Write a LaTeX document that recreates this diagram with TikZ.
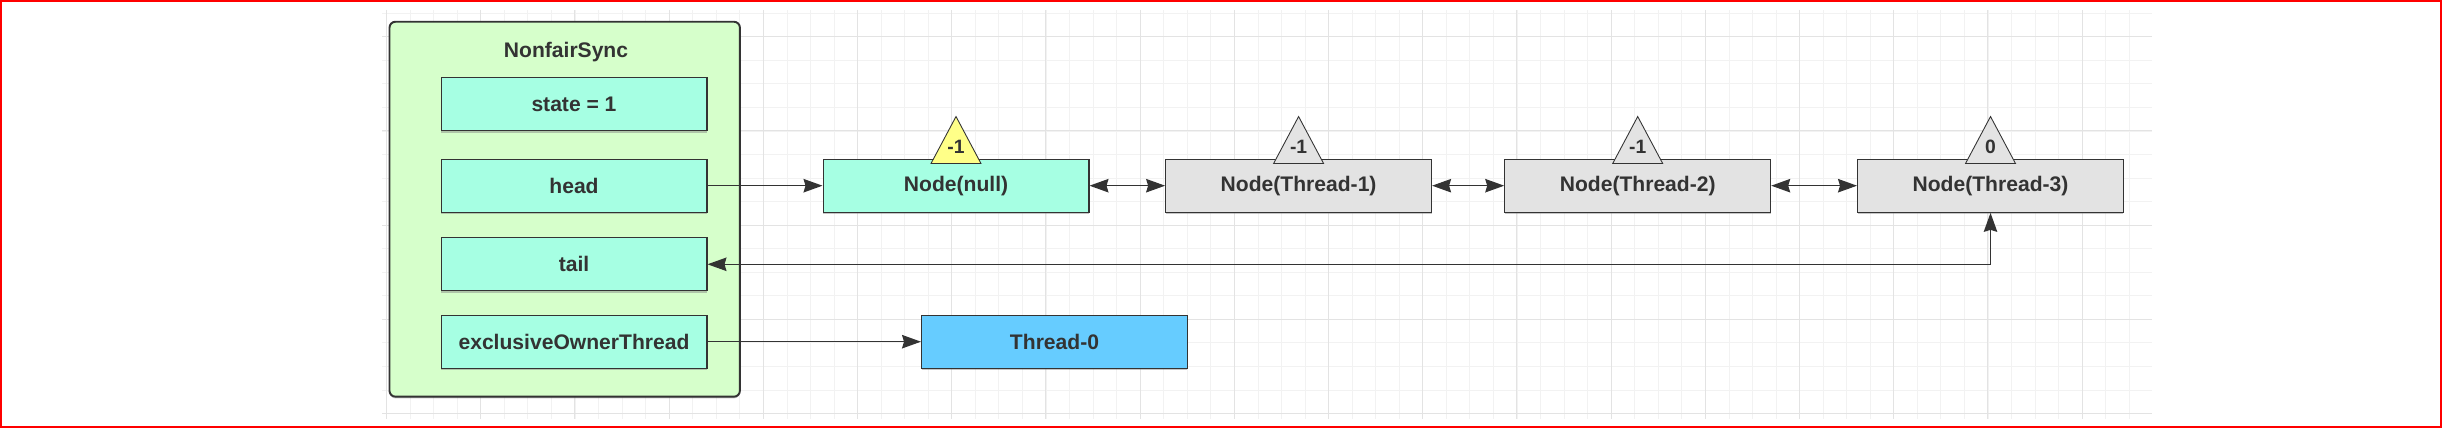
\documentclass[tikz,border=0pt]{standalone}
\usepackage{fontspec}
\setmainfont{Liberation Sans}
\usetikzlibrary{arrows.meta,shadows}
\definecolor{inkgray}{HTML}{333333}
\definecolor{syncfill}{HTML}{D6FFCB}
\definecolor{fieldfill}{HTML}{A6FFE3}
\definecolor{waitfill}{HTML}{E3E3E3}
\definecolor{ownerfill}{HTML}{66CCFF}
\definecolor{flagnull}{HTML}{FFFF88}
\begin{document}
\begin{tikzpicture}[x=0.02cm, y=-0.02cm,
    >={Stealth[length=0.38cm, width=0.27cm, inset=0.04cm]},
    gridminor/.style={draw=black!5, line width=0.4pt},
    gridmajor/.style={draw=black!11, line width=0.6pt},
    shade/.style={drop shadow={shadow xshift=0cm, shadow yshift=-0.035cm, opacity=0.45}},
    syncbox/.style={draw=inkgray, fill=syncfill, line width=1.1pt, rounded corners=0.12cm,
        minimum width=7.01cm, minimum height=7.5cm, shade},
    box/.style={draw=inkgray, line width=0.6pt, minimum width=5.32cm, minimum height=1.066cm,
        inner sep=0pt, text=inkgray, font=\fontsize{12}{14}\selectfont\bfseries, shade},
    field/.style={box, fill=fieldfill},
    title/.style={text=inkgray, font=\fontsize{12}{14}\selectfont\bfseries},
    flag/.style={draw=inkgray, line width=0.5pt},
    flagtext/.style={text=inkgray, inner sep=0pt, font=\fontsize{11}{12}\selectfont\bfseries},
    link/.style={draw=inkgray, line width=0.7pt}]
  \useasboundingbox (0,0) rectangle (2442,428);
  % grid paper
  \foreach \k in {0,...,74} \draw[gridminor] ({386.5+23.55*\k},10) -- ({386.5+23.55*\k},419);
  \foreach \k in {-1,...,16} \draw[gridminor] (382,{36.7+23.55*\k}) -- (2152,{36.7+23.55*\k});
  \foreach \k in {0,...,18} \draw[gridmajor] ({386.5+94.2*\k},10) -- ({386.5+94.2*\k},419);
  \foreach \k in {0,...,4} \draw[gridmajor] (382,{36.7+94.2*\k}) -- (2152,{36.7+94.2*\k});
  \draw[red, line width=0.04cm] (1,1) rectangle (2441,427);

  % the lock object
  \node[syncbox] (sync) at (564.7,209.2) {};
  \node[title] (synctitle) at (566,51.7) {NonfairSync};
  \node[field] (state) at (574,104.2) {state = 1};
  \node[field] (head) at (574,185.7) {head};
  \node[field] (tail) at (574,264.3) {tail};
  \node[field] (owner) at (574,341.7) {exclusiveOwnerThread};

  % wait queue
  \node[box, fill=fieldfill] (nnull) at (956,185.7) {Node(null)};
  \node[box, fill=waitfill] (nt1) at (1298.6,185.7) {Node(Thread-1)};
  \node[box, fill=waitfill] (nt2) at (1637.7,185.7) {Node(Thread-2)};
  \node[box, fill=waitfill] (nt3) at (1990.5,185.7) {Node(Thread-3)};
  \node[box, fill=ownerfill] (thread0) at (1054.5,341.7) {Thread-0};

  \draw[link, ->] (head) -- (nnull);
  \draw[link, <->] (nnull) -- (nt1);
  \draw[link, <->] (nt1) -- (nt2);
  \draw[link, <->] (nt2) -- (nt3);
  \draw[link, <->] (tail.east) -| (nt3.south);
  \draw[link, ->] (owner) -- (thread0);

  % waitStatus flags
  \foreach \n/\v/\c in {nnull/-1/flagnull, nt1/-1/waitfill, nt2/-1/waitfill, nt3/0/waitfill} {
    \draw[flag, fill=\c] ([shift={(-25,5)}]\n.north) -- ([shift={(0,-42)}]\n.north)
        -- ([shift={(25,5)}]\n.north) -- cycle;
    \node[flagtext] (\n-ws) at ([shift={(0,-12)}]\n.north) {\v};
  }
\end{tikzpicture}
\end{document}
